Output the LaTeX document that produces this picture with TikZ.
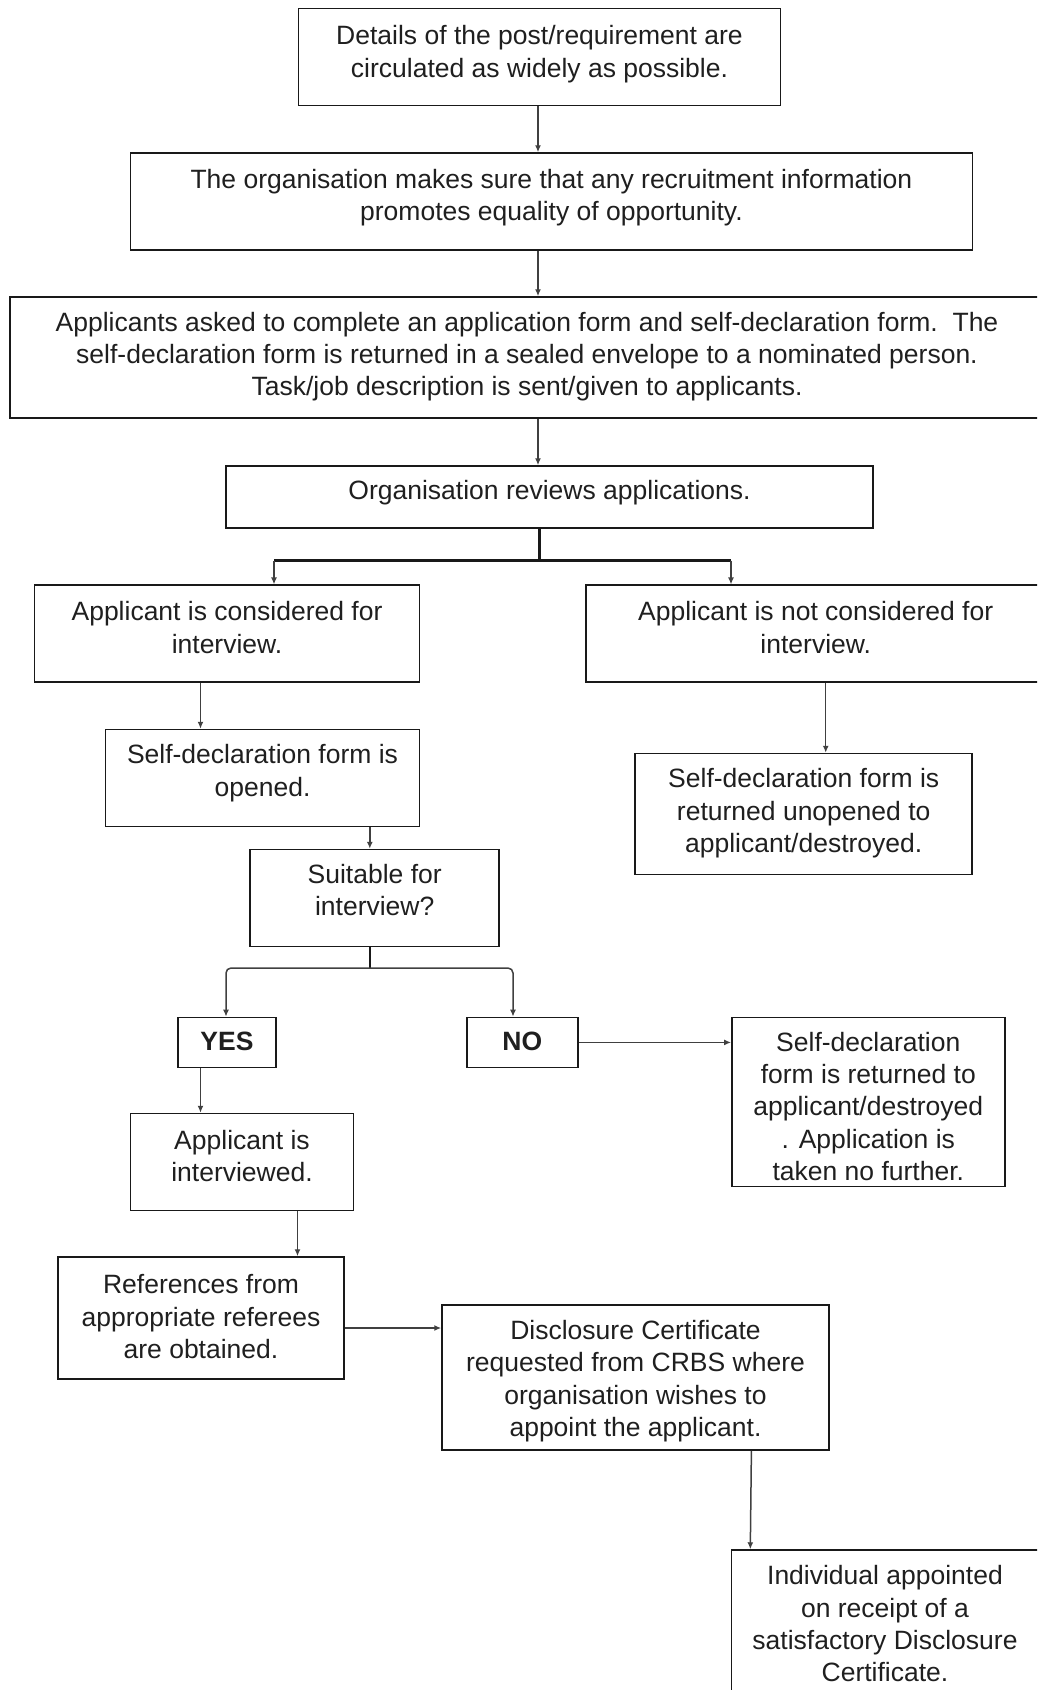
\documentclass[tikz,border=0pt]{standalone}
\usepackage{fontspec}
\setmainfont{Liberation Sans}
\usetikzlibrary{arrows.meta}
\begin{document}
\begin{tikzpicture}[x=1pt,y=-1pt,
	box/.style={draw=black!90,line width=1.5pt,inner sep=0pt},
	txt/.style={anchor=center,align=center,text=black!88,font=\fontsize{26.5}{32.3}\selectfont},
	arr/.style={draw=black!75,line width=1.5pt,-{Latex[length=7pt,width=6pt]}},
	fork/.style={draw=black!90,line width=3pt}]
	\useasboundingbox (0,0) rectangle (1037,1690);
	\clip (0,0) rectangle (1037,1690);
	\node[box,minimum width=482pt,minimum height=97pt,label={[txt,yshift=-46.5pt]north:{Details of the post/requirement are\\circulated as widely as possible.}}] (details) at (539.5,57) {};
	\node[box,minimum width=842pt,minimum height=97pt,label={[txt,yshift=-45.4pt]north:{The organisation makes sure that any recruitment information\\promotes equality of opportunity.}}] (equality) at (551.4,201.5) {};
	\node[box,minimum width=1034pt,minimum height=121pt,label={[txt,yshift=-60.5pt]north:{Applicants asked to complete an application form and self-declaration form.\ \ The\\self-declaration form is returned in a sealed envelope to a nominated person.\\Task/job description is sent/given to applicants.}}] (forms) at (527,357.5) {};
	\node[box,minimum width=647pt,minimum height=62pt,label={[txt,yshift=-27.5pt]north:{Organisation reviews applications.}}] (review) at (549.5,497) {};
	\node[box,minimum width=385pt,minimum height=97pt,label={[txt,yshift=-43pt]north:{Applicant is considered for\\interview.}}] (consider) at (227,633.7) {};
	\node[box,minimum width=459pt,minimum height=97pt,label={[txt,yshift=-43pt]north:{Applicant is not considered for\\interview.}}] (notconsider) at (815.7,633.7) {};
	\node[box,minimum width=314pt,minimum height=97pt,label={[txt,yshift=-44.35pt]north:{Self-declaration form is\\opened.}}] (opened) at (262.5,778) {};
	\node[box,minimum width=337pt,minimum height=121pt,label={[txt,yshift=-60.5pt]north:{Self-declaration form is\\returned unopened to\\applicant/destroyed.}}] (unopened) at (803.7,814) {};
	\node[box,minimum width=249pt,minimum height=97pt,label={[txt,yshift=-41.3pt]north:{Suitable for\\interview?}}] (suitable) at (374.7,898) {};
	\node[box,minimum width=98pt,minimum height=50pt,label={[txt,font=\fontsize{26.5}{32.3}\selectfont\bfseries,yshift=-25pt]north:{YES}}] (yes) at (227,1042.4) {};
	\node[box,minimum width=111pt,minimum height=50pt,label={[txt,font=\fontsize{26.5}{32.3}\selectfont\bfseries,yshift=-25pt]north:{NO}}] (no) at (522.3,1042.4) {};
	\node[box,minimum width=273pt,minimum height=169pt,label={[txt,yshift=-89.5pt]north:{Self-declaration\\form is returned to\\applicant/destroyed\\. Application is\\taken no further.}}] (rejected) at (868.3,1102) {};
	\node[box,minimum width=223pt,minimum height=97pt,label={[txt,yshift=-43pt]north:{Applicant is\\interviewed.}}] (interviewed) at (242,1162) {};
	\node[box,minimum width=286pt,minimum height=122pt,label={[txt,yshift=-60.5pt]north:{References from\\appropriate referees\\are obtained.}}] (references) at (201,1318) {};
	\node[box,minimum width=387pt,minimum height=145pt,label={[txt,yshift=-76.65pt]north:{Disclosure Certificate\\requested from CRBS where\\organisation wishes to\\appoint the applicant.}}] (disclosure) at (635.5,1377.7) {};
	\node[box,minimum width=307pt,minimum height=150pt,label={[txt,yshift=-74.5pt]north:{Individual appointed\\on receipt of a\\satisfactory Disclosure\\Certificate.}}] (appointed) at (885,1625) {};
	\coordinate (mainx) at (538,0);
	\coordinate (forkA) at (539,560.5);
	\coordinate (forkAl) at (274,560.5);
	\coordinate (forkAr) at (731,560.5);
	\coordinate (forkB) at (369.8,968);
	\coordinate (forkBl) at (226,968);
	\coordinate (forkBr) at (513,968);
	\coordinate (leftx) at (200.5,0);
	\coordinate (rightx) at (825.7,0);
	\coordinate (suitx) at (369.8,0);
	\coordinate (refx) at (297.5,0);
	\coordinate (discx) at (751.4,0);
	\coordinate (apptx) at (750.3,0);
	\coordinate (refy) at (0,1328);
	\draw[arr] (details.south -| mainx) -- (equality.north -| mainx);
	\draw[arr] (equality.south -| mainx) -- (forms.north -| mainx);
	\draw[arr] (forms.south -| mainx) -- (review.north -| mainx);
	\draw[fork] (review.south -| forkA) -- (forkA);
	\draw[fork] (forkAl) -- (forkAr);
	\draw[arr] (forkAl) -- (consider.north -| forkAl);
	\draw[arr] (forkAr) -- (notconsider.north -| forkAr);
	\draw[arr] (consider.south -| leftx) -- (opened.north -| leftx);
	\draw[arr] (notconsider.south -| rightx) -- (unopened.north -| rightx);
	\draw[arr] (opened.south -| suitx) -- (suitable.north -| suitx);
	\draw[fork,line width=2.5pt] (suitable.south -| forkB) -- (forkB);
	\draw[arr,rounded corners=5pt] (forkB) -- (forkBl) -- (yes.north -| forkBl);
	\draw[arr,rounded corners=5pt] (forkB) -- (forkBr) -- (no.north -| forkBr);
	\draw[arr] (no.east) -- (rejected.west |- no.east);
	\draw[arr] (yes.south -| leftx) -- (interviewed.north -| leftx);
	\draw[arr] (interviewed.south -| refx) -- (references.north -| refx);
	\draw[arr] (references.east |- refy) -- (disclosure.west |- refy);
	\draw[arr] (disclosure.south -| discx) -- (appointed.north -| apptx);
\end{tikzpicture}
\end{document}
